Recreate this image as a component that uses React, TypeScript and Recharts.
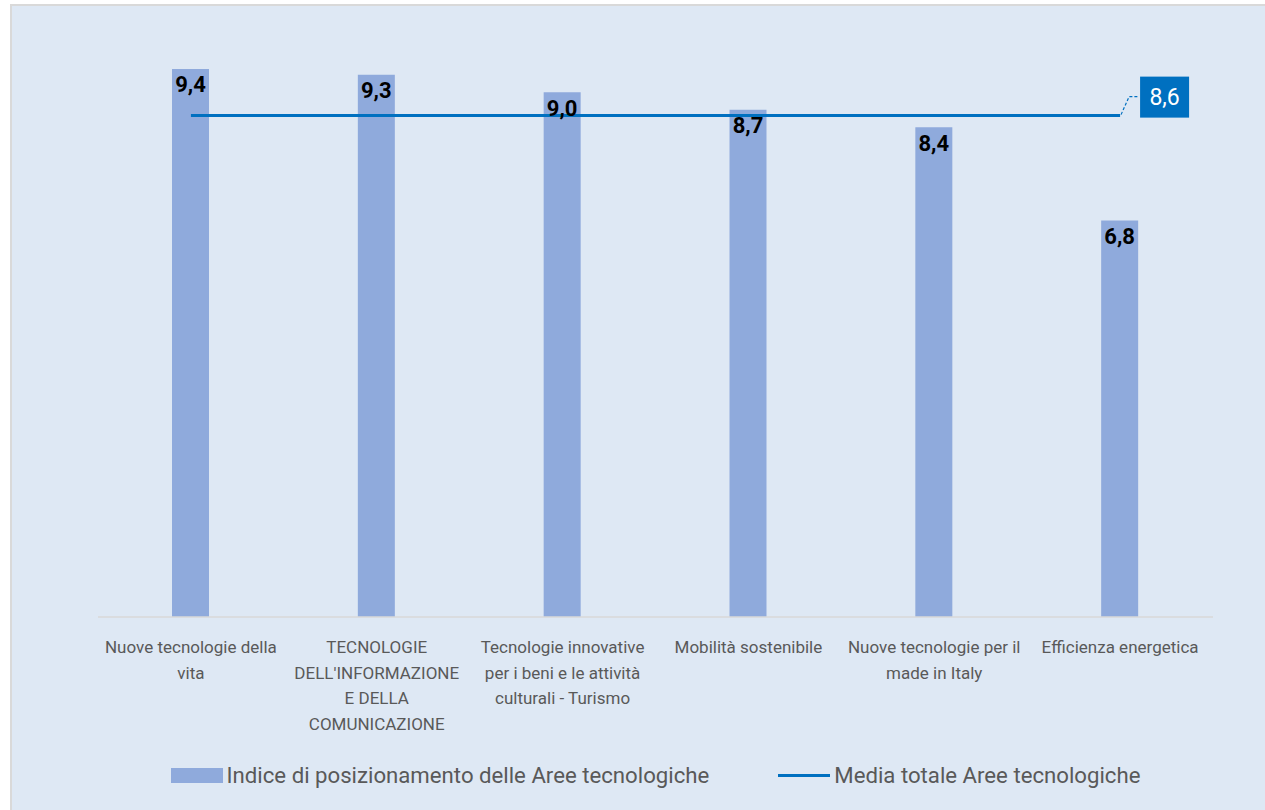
import { ComposedChart, Bar, Line, XAxis, YAxis, Legend, LabelList, Text } from "recharts";

const categories = [
    "Nuove tecnologie della vita",
    "TECNOLOGIE DELL'INFORMAZIONE E DELLA COMUNICAZIONE",
    "Tecnologie innovative per i beni e le attività culturali - Turismo",
    "Mobilità sostenibile",
    "Nuove tecnologie per il made in Italy",
    "Efficienza energetica",
];
const indice = [9.4, 9.3, 9.0, 8.7, 8.4, 6.8];
const media = [8.6, 8.6, 8.6, 8.6, 8.6, 8.6];
const seriesNames = ["Indice di posizionamento delle Aree tecnologiche", "Media totale Aree tecnologiche"];

const BAR = "#8faadc";
const LINE = "#0070c0";
const GREY = "#595959";
const FONT = "Roboto, 'Noto Sans', sans-serif";

const data = categories.map((name, i) => ({ name, indice: indice[i], media: media[i] }));

const fmt = (v: number) => v.toFixed(1).replace(".", ",");

function CategoryTick(props: any) {
    const { x, y, payload } = props;
    return (
        <Text
            x={x}
            y={y + 16}
            width={168}
            textAnchor="middle"
            verticalAnchor="start"
            lineHeight={25.5}
            fill={GREY}
            style={{ fontSize: 17, fontFamily: FONT }}
        >
            {payload.value}
        </Text>
    );
}

function BarValue(props: any) {
    const { x, y, width, value } = props;
    return (
        <text
            x={x + width / 2}
            y={y + 16}
            textAnchor="middle"
            dominantBaseline="central"
            fontSize={22}
            fontWeight={700}
            fontFamily={FONT}
            fill="#000"
        >
            {fmt(value)}
        </text>
    );
}

function MeanCallout(props: any) {
    const { x, y, value, index } = props;
    if (index !== categories.length - 1) return null;
    return (
        <g>
            <polyline
                points={`${x + 1},${y - 1} ${x + 9},${y - 19} ${x + 19},${y - 19}`}
                fill="none"
                stroke={LINE}
                strokeWidth={1.2}
                strokeDasharray="3 2"
            />
            <rect x={x + 20} y={y - 39} width={49} height={41} fill={LINE} />
            <text
                x={x + 44.5}
                y={y - 18}
                textAnchor="middle"
                dominantBaseline="central"
                fontSize={23}
                fontFamily={FONT}
                fill="#fff"
            >
                {fmt(value)}
            </text>
        </g>
    );
}

function LegendBox() {
    return (
        <div
            style={{
                display: "flex",
                justifyContent: "center",
                alignItems: "center",
                height: 40,
                fontFamily: FONT,
                fontSize: 22.2,
                color: GREY,
            }}
        >
            <span style={{ display: "inline-block", width: 52, height: 15, background: BAR, marginRight: 4 }} />
            <span>{seriesNames[0]}</span>
            <span style={{ display: "inline-block", width: 52, height: 3, background: LINE, marginLeft: 69, marginRight: 4 }} />
            <span>{seriesNames[1]}</span>
        </div>
    );
}

export default function App() {
    return (
        <>
            <style>{`body{margin:0;overflow:hidden}`}</style>
            <div
                style={{
                    position: "absolute",
                    left: 10,
                    top: 4,
                    width: 1275,
                    height: 820,
                    border: "2px solid #d9d9d9",
                    background: "#dee8f4",
                    boxSizing: "border-box",
                }}
            >
                <ComposedChart
                    width={1253}
                    height={804}
                    data={data}
                    margin={{ top: 28, right: 52, bottom: 15, left: 86 }}
                >
                    <XAxis
                        dataKey="name"
                        height={138}
                        tickLine={false}
                        axisLine={{ stroke: "#d9d9d9", strokeWidth: 1.5 }}
                        tick={<CategoryTick />}
                        interval={0}
                    />
                    <YAxis hide domain={[0, 10]} />
                    <Bar dataKey="indice" name={seriesNames[0]} fill={BAR} barSize={37} isAnimationActive={false}>
                        <LabelList dataKey="indice" content={<BarValue />} />
                    </Bar>
                    <Line
                        dataKey="media"
                        name={seriesNames[1]}
                        stroke={LINE}
                        strokeWidth={3}
                        dot={false}
                        activeDot={false}
                        isAnimationActive={false}
                    >
                        <LabelList dataKey="media" content={<MeanCallout />} />
                    </Line>
                    <Legend verticalAlign="bottom" height={40} content={() => <LegendBox />} />
                </ComposedChart>
            </div>
        </>
    );
}
